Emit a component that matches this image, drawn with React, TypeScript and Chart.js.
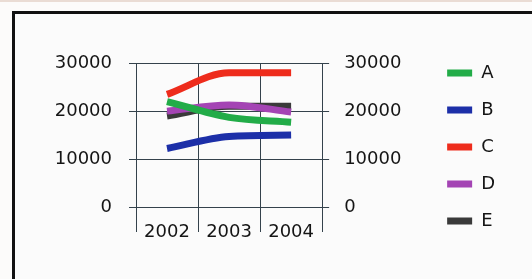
import React, { useEffect, useRef } from "react";
import { Chart, registerables } from "chart.js";

Chart.register(...registerables);

const categories = ["2002", "2003", "2004"];
const seriesNames = ["A", "B", "C", "D", "E"];
const seriesA = [22000, 18700, 17700];
const seriesB = [12200, 14700, 15000];
const seriesC = [23500, 28000, 28000];
const seriesD = [20000, 21300, 19800];
const seriesE = [19000, 21000, 21000];
const seriesColors = ["#22ac48", "#1c2fa8", "#ee2c1c", "#a444b4", "#3a3a3a"];
const yTicks = [0, 10000, 20000, 30000];

const FONT = { family: "'DejaVu Sans', sans-serif", size: 18 };
const GRID = "#34424c";
const TEXT = "#151515";

export default function App() {
  const ref = useRef<HTMLCanvasElement | null>(null);

  useEffect(() => {
    if (!ref.current) return;
    const values = [seriesA, seriesB, seriesC, seriesD, seriesE];
    const chart = new Chart(ref.current, {
      type: "line",
      data: {
        labels: categories,
        datasets: seriesNames.map((name, i) => ({
          label: name,
          data: values[i],
          borderColor: seriesColors[i],
          backgroundColor: seriesColors[i],
          borderWidth: 7,
          pointRadius: 0,
          cubicInterpolationMode: "monotone" as const,
          yAxisID: "y",
        })),
      },
      options: {
        animation: false,
        responsive: false,
        devicePixelRatio: 1,
        layout: { padding: { top: 1, right: 27, bottom: 0, left: 0 } },
        plugins: {
          tooltip: { enabled: false },
          title: {
            display: true,
            text: " ",
            font: { size: 1 },
            padding: { top: 47, bottom: 0 },
          },
          legend: {
            position: "right",
            labels: {
              boxWidth: 25,
              boxHeight: 7,
              padding: 19,
              font: FONT,
              color: TEXT,
              generateLabels: (c: any) =>
                Chart.defaults.plugins.legend.labels
                  .generateLabels(c)
                  .map((l: any) => ({ ...l, lineWidth: 0 })),
            },
          },
        },
        scales: {
          x: {
            type: "category",
            offset: true,
            grid: {
              offset: true,
              color: GRID,
              lineWidth: 1,
              tickLength: 25,
              tickColor: GRID,
            },
            border: { display: false },
            ticks: { font: FONT, color: TEXT, padding: -10, maxRotation: 0 },
            afterFit: (s: any) => {
              s.height = 72;
            },
          },
          y: {
            position: "left",
            min: 0,
            max: 30000,
            afterBuildTicks: (s: any) => {
              s.ticks = yTicks.map((v) => ({ value: v }));
            },
            grid: { color: GRID, lineWidth: 1, tickLength: 7, tickColor: GRID },
            border: { display: true, color: GRID, width: 1 },
            ticks: {
              font: FONT,
              color: TEXT,
              padding: 17,
              callback: (v: any) => String(v),
            },
            afterFit: (s: any) => {
              s.width = 121;
            },
          },
          y2: {
            position: "right",
            min: 0,
            max: 30000,
            afterBuildTicks: (s: any) => {
              s.ticks = yTicks.map((v) => ({ value: v }));
            },
            grid: { drawOnChartArea: false, tickLength: 7, tickColor: GRID, color: GRID },
            border: { display: false },
            ticks: {
              font: FONT,
              color: TEXT,
              padding: 15,
              callback: (v: any) => String(v),
            },
            afterFit: (s: any) => {
              s.width = 106;
            },
          },
        },
      },
    });
    return () => chart.destroy();
  }, []);

  return (
    <div
      style={{
        position: "fixed",
        left: 0,
        top: 0,
        width: 532,
        height: 279,
        background: "#fcfbfa",
        borderTop: "2px solid #eadcd4",
        boxSizing: "border-box",
        overflow: "hidden",
      }}
    >
      <div
        style={{
          position: "absolute",
          left: 12,
          top: 9,
          width: 560,
          height: 320,
          borderLeft: "3px solid #111",
          borderTop: "3px solid #111",
          background: "#fbfbfb",
        }}
      />
      <canvas
        ref={ref}
        width={517}
        height={265}
        style={{ position: "absolute", left: 15, top: 12, width: 517, height: 265 }}
      />
    </div>
  );
}
